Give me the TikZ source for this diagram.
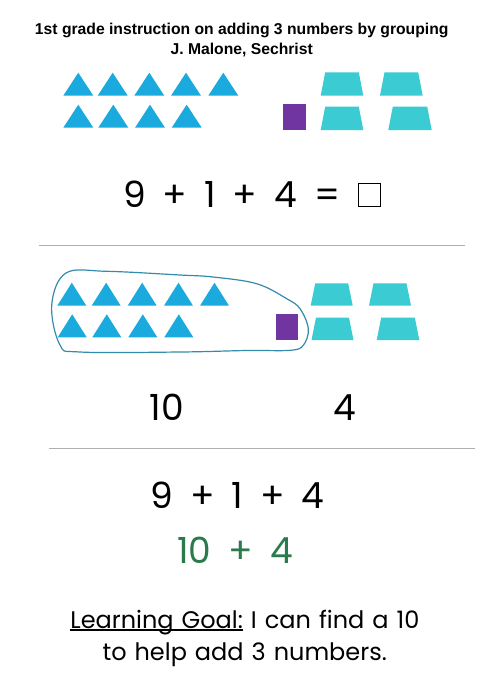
\documentclass[tikz,border=0pt]{standalone}
\usepackage{fontspec}
\setmainfont{Poppins}
\newfontfamily\titlefont{Liberation Sans}
\definecolor{tricol}{RGB}{27,170,222}
\definecolor{trapcol}{RGB}{58,203,211}
\definecolor{purp}{RGB}{112,53,160}
\definecolor{loopcol}{RGB}{52,140,172}
\definecolor{goalgreen}{RGB}{42,122,75}
\definecolor{rulegray}{RGB}{175,175,175}
\newcommand\mytri[3]{\fill[tricol] (#1,#3) -- ++(#2,0) -- (#1+#2/2,#3-23) -- cycle;}
\newcommand\mytrap[4]{\fill[trapcol] (#1,#4) -- (#2,#4) -- (#2-4.5,#3) -- (#1+4.5,#3) -- cycle;}
\newcommand\goalul[1]{\setbox0\hbox{#1}\rlap{\rule[-2.6pt]{\wd0}{1.6pt}}\box0\relax}
\newcommand\eqfnt{\fontsize{36}{40}\selectfont\spaceskip 17pt\relax}
\newcommand\goalfnt{\fontsize{24}{28}\selectfont\spaceskip 8pt\relax}
\begin{document}
\begin{tikzpicture}[x=1pt,y=-1pt,
  titletext/.style={font=\titlefont\bfseries\fontsize{15.7}{18}\selectfont,anchor=base,inner sep=0},
  eqtext/.style={font=\eqfnt,anchor=base,inner sep=0},
  goaltext/.style={font=\goalfnt,anchor=base,inner sep=0},
  hrule/.style={draw=rulegray,line width=1pt}]
\useasboundingbox (0,0) rectangle (500,689);
\fill[white] (0,0) rectangle (500,689);
% title
\node[titletext] (t1) at (241.7,34.3) {1st grade instruction on adding 3 numbers by grouping};
\node[titletext] (t2) at (241.7,54) {J. Malone, Sechrist};
% first group
\mytri{63.3}{30}{95.7}\mytri{97.7}{30}{95.7}\mytri{134.3}{30}{95.7}\mytri{171}{30}{95.7}\mytri{208.3}{30}{95.7}
\mytri{63.3}{30}{127.7}\mytri{98.3}{30}{127.7}\mytri{135}{30}{127.7}\mytri{171.7}{30}{127.7}
\fill[purp] (283.3,104.3) rectangle (306,130);
\mytrap{320.7}{363.3}{72.3}{95.7}\mytrap{380}{422.7}{72.3}{95.7}
\mytrap{320.7}{363.3}{106.7}{130}\mytrap{388.3}{431.7}{106.7}{130}
% equation 1
\node[eqtext] (eq1) at (231.7,207.3) {9 + 1 + 4 =};
\node[draw=black,line width=1.3pt,minimum width=22pt,minimum height=23pt,inner sep=0] (blank) at (369.3,195.3) {};
\coordinate (r1a) at (39,245); \coordinate (r1b) at (465,245);
\draw[hrule] (r1a) -- (r1b);
% second group
\mytri{57.3}{29}{305.7}\mytri{91.7}{29}{305.7}\mytri{127.7}{29}{305.7}\mytri{164}{29}{305.7}\mytri{200}{29}{305.7}
\mytri{57.7}{29}{337.3}\mytri{92.3}{29}{337.3}\mytri{128.3}{29}{337.3}\mytri{164.3}{29}{337.3}
\fill[purp] (276,314.3) rectangle (298.3,340);
\mytrap{310.7}{352.7}{283.3}{305.7}\mytrap{369}{411}{283.3}{305.7}
\mytrap{311.5}{353.5}{317.7}{340}\mytrap{376.7}{419.3}{317.7}{340}
\draw[loopcol,line width=1.2pt] plot[smooth cycle,tension=0.6] coordinates {
 (66,273) (106.7,271.3) (180,275) (213,277) (256.7,283.7) (286.7,298.7) (300,308.7)
 (308.3,328.7) (303.3,345.3) (290,350.3) (246.7,350.5) (180,352) (80,352) (60,345) (51.7,305)};
\node[eqtext] (ten) at (166.7,420) {10};
\node[eqtext] (four) at (345,420) {4};
\coordinate (r2a) at (49,448.3); \coordinate (r2b) at (475,448.3);
\draw[hrule] (r2a) -- (r2b);
\node[eqtext] (eq2) at (237.5,508.3) {9 + 1 + 4};
\node[eqtext,text=goalgreen] (eq3) at (235,563.3) {10 + 4};
\node[goaltext] (g1) at (244.9,628.3) {\goalul{Learning Goal:} I can find a 10};
\node[goaltext] (g2) at (244.7,660) {to help add 3 numbers.};
\end{tikzpicture}
\end{document}
